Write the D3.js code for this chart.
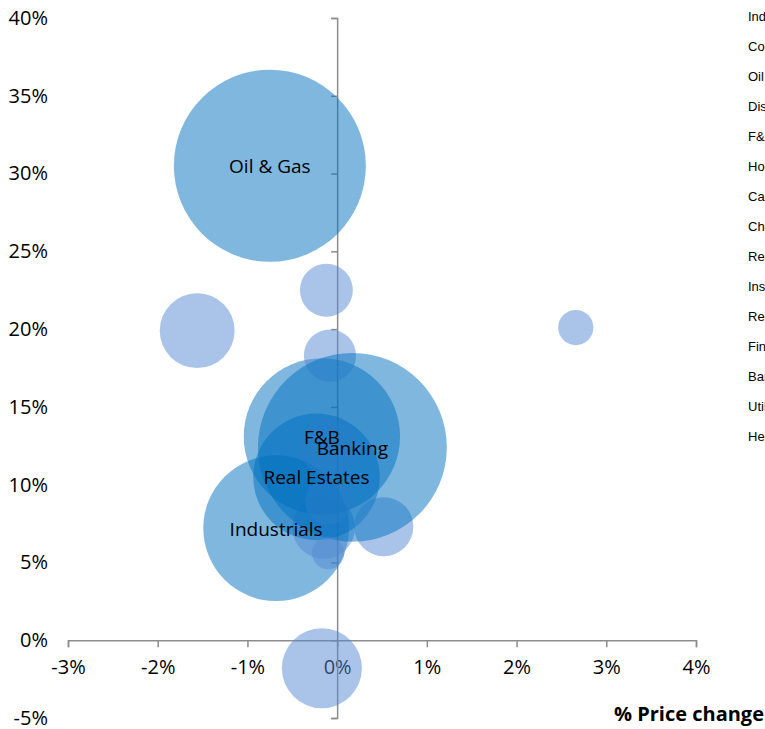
<!DOCTYPE html>
<html>
<head>
<meta charset="utf-8">
<script src="https://cdn.jsdelivr.net/npm/d3@7"></script>
<style>
  body { margin: 0; background: #fff; overflow: hidden; }
  svg { display: block; }
  .tick text { font-family: "Open Sans", sans-serif; font-size: 20px; fill: #000; }
</style>
</head>
<body>
<svg id="chart"></svg>
<script>
// sectors, in legend order
const sectors = ["Industrials", "Construction", "Oil & Gas", "Distribution", "F&B",
  "Household goods", "Cars & parts", "Chemicals", "Real Estates", "Insurance",
  "Resources", "Financial services", "Banking", "Utilities", "Health care"];
// % price change (x)
const priceChange = [-0.68, -0.15, -0.75, -0.12, -0.17, -1.56, 2.66, -0.08, -0.23, 0.52, -0.09, -0.10, 0.17, -0.10, -0.17];
// % growth (y)
const growth = [7.2, 7.25, 30.5, 22.5, 13.1, 19.9, 20.1, 18.3, 10.5, 7.3, 12.4, 8.9, 12.4, 5.6, -1.8];
// bubble size
const bubbleSize = [53, 9.8, 92, 7, 61, 14, 3.1, 6.8, 40, 8.7, 8.4, 5.3, 89, 2.6, 16];
const labelled = ["Industrials", "Oil & Gas", "F&B", "Real Estates", "Banking"];

const xTicks = [-3, -2, -1, 0, 1, 2, 3, 4];
const yTicks = [-5, 0, 5, 10, 15, 20, 25, 30, 35, 40];

const width = 765, height = 729;
const svg = d3.select("#chart").attr("width", width).attr("height", height);

const x = d3.scaleLinear().domain([-3, 4]).range([68, 696]);
const y = d3.scaleLinear().domain([-5, 40]).range([718, 18]);
const r = d3.scaleSqrt().domain([0, d3.max(bubbleSize)]).range([0, 96]);

const data = sectors.map((s, i) => ({ name: s, x: priceChange[i], y: growth[i], size: bubbleSize[i] }));

// axes
const xAxis = svg.append("g")
  .attr("transform", "translate(0," + y(0) + ")")
  .call(d3.axisBottom(x).tickValues(xTicks).tickSize(7).tickPadding(13).tickFormat(d => d + "%"));
const yAxis = svg.append("g")
  .attr("transform", "translate(" + x(0) + ",0)")
  .call(d3.axisLeft(y).tickValues(yTicks).tickSize(6).tickFormat(d => d + "%"));
[xAxis, yAxis].forEach(a => {
  a.select(".domain").attr("stroke", "#8c8c8c").attr("stroke-width", 1.5);
  a.selectAll(".tick line").attr("stroke", "#8c8c8c").attr("stroke-width", 1.5);
});
// y labels sit at the left edge of the chart
yAxis.selectAll(".tick text")
  .attr("x", 48 - x(0))
  .attr("text-anchor", "end");

// bubbles
svg.append("g").selectAll("circle")
  .data(data)
  .join("circle")
  .attr("cx", d => x(d.x))
  .attr("cy", d => y(d.y))
  .attr("r", d => r(d.size))
  .attr("fill", d => labelled.includes(d.name) ? "#0070C0" : "#5389D1")
  .attr("fill-opacity", 0.5);

svg.append("g").selectAll("text")
  .data(data.filter(d => labelled.includes(d.name)))
  .join("text")
  .attr("x", d => x(d.x))
  .attr("y", d => y(d.y))
  .attr("dy", "0.4em")
  .attr("text-anchor", "middle")
  .style("font-family", "'Open Sans', sans-serif")
  .style("font-size", "19px")
  .text(d => d.name);

// axis title
svg.append("text")
  .attr("x", 764)
  .attr("y", 721)
  .attr("text-anchor", "end")
  .style("font-family", "'Open Sans', sans-serif")
  .style("font-size", "20px")
  .style("font-weight", "bold")
  .text("% Price change");

// legend (runs off the right edge)
svg.append("g").selectAll("text")
  .data(sectors)
  .join("text")
  .attr("x", 748)
  .attr("y", (d, i) => 16 + i * 30)
  .attr("dy", "0.35em")
  .style("font-family", "'Liberation Sans', Arial, sans-serif")
  .style("font-size", "13px")
  .text(d => d);
</script>
</body>
</html>
